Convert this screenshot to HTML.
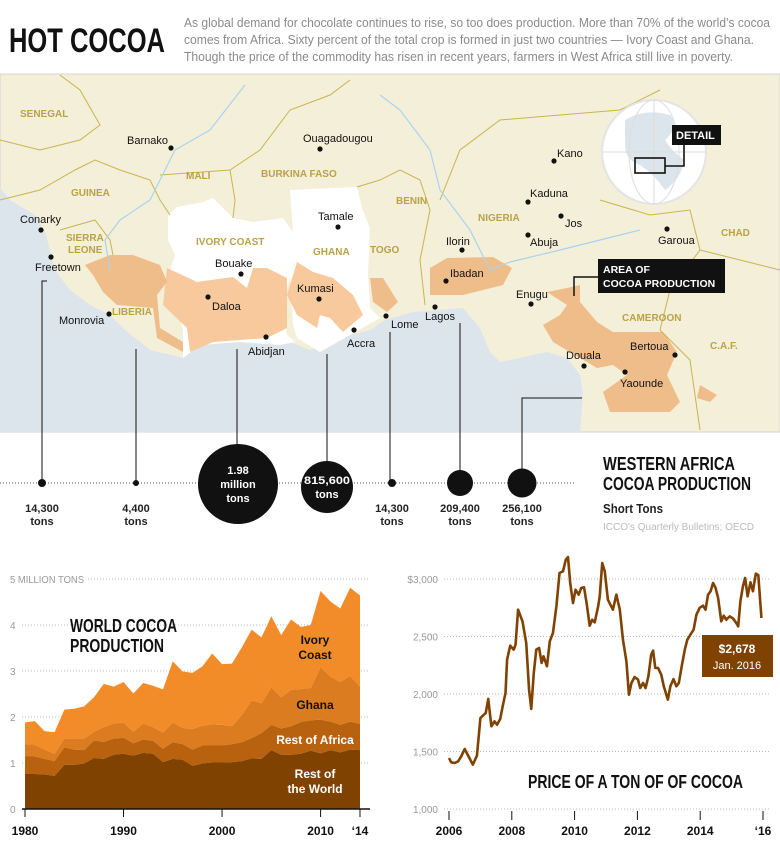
<!DOCTYPE html>
<html><head><meta charset="utf-8"><style>
body{margin:0;background:#fff;width:780px;height:860px;overflow:hidden}
svg{display:block}
text{font-family:"Liberation Sans Narrow","Liberation Sans",sans-serif}
.cl{font-family:"Liberation Sans",sans-serif;font-size:11px;fill:#111}
.co{font-family:"Liberation Sans",sans-serif;font-size:10px;font-weight:bold;fill:#b9a248}
.tk{font-family:"Liberation Sans",sans-serif;font-size:10px;fill:#999}
.yr{font-family:"Liberation Sans",sans-serif;font-size:12px;font-weight:bold;fill:#111}
</style></head><body>
<svg id="s" width="780" height="860" xmlns="http://www.w3.org/2000/svg">
<text x="9" y="52" font-size="34" font-weight="bold" fill="#111" textLength="156" lengthAdjust="spacingAndGlyphs">HOT COCOA</text>
<g font-size="12.5" fill="#8a8a8a">
<text x="184" y="27" textLength="586" lengthAdjust="spacingAndGlyphs">As global demand for chocolate continues to rise, so too does production. More than 70% of the world’s cocoa</text>
<text x="184" y="44" textLength="570" lengthAdjust="spacingAndGlyphs">comes from Africa. Sixty percent of the total crop is formed in just two countries — Ivory Coast and Ghana.</text>
<text x="184" y="61" textLength="549" lengthAdjust="spacingAndGlyphs">Though the price of the commodity has risen in recent years, farmers in West Africa still live in poverty.</text>
</g>
<g>
<rect x="0" y="74" width="780" height="358" fill="#f4efd8" stroke="#d4d4cc"/>
<polygon fill="#dce5eb" points="0,188 10,200 35,215 45,232 50,250 55,270 70,290 90,305 110,315 125,330 150,350 183,358 200,345 240,342 285,340 310,350 340,338 370,330 385,320 413,312 463,308 480,328 490,352 500,362 520,358 547,352 567,358 580,375 583,395 580,432 0,432"/>
<polygon fill="#fff" points="168,215 177,207 203,202 213,198 233,218 253,222 283,218 293,232 298,258 290,275 283,308 287,335 295,342 280,345 240,342 200,345 183,358 183,330 175,305 165,290 170,270 175,255 168,240"/>
<polygon fill="#fff" points="290,190 357,187 362,208 370,228 368,275 370,308 380,318 320,352 297,338 293,325 290,275 298,258 293,232"/>
<g fill="#f7c99c">
<polygon points="167,268 197,282 233,277 247,288 253,268 267,268 287,278 287,328 267,338 213,342 190,352 187,328 163,305"/>
<polygon points="297,262 313,272 333,278 353,295 363,315 343,332 330,318 320,315 317,328 297,315 287,295"/>
</g>
<g fill="#efbd8a">
<polygon points="370,278 383,278 398,302 387,312 373,302"/>
<polygon points="85,265 110,255 133,255 160,265 167,282 157,295 160,328 183,342 183,352 157,338 153,308 117,305 103,292 93,275"/>
<polygon points="430,268 447,258 493,257 512,268 503,285 463,295 430,295"/>
<polygon points="547,292 567,288 580,285 580,302 597,322 613,332 663,332 677,352 667,375 680,402 670,412 610,412 603,392 627,375 613,365 597,368 580,358 553,342 543,325 560,315 567,305"/>
<polygon points="700,385 717,395 710,402 697,398"/>
</g>
<g fill="none" stroke="#c9b450" stroke-width="1">
<polyline points="0,140 40,150 80,140 100,125 80,90 60,75"/>
<polyline points="0,200 40,190 75,170 95,160 120,170 150,180 160,200 170,215"/>
<polyline points="60,230 95,220 110,240 113,255"/>
<polyline points="160,175 230,170 260,150 290,110 330,95 350,80"/>
<polyline points="230,170 235,200 233,218"/>
<polyline points="357,187 380,180 400,170 420,180 430,210 420,260 425,305"/>
<polyline points="440,200 460,150 500,120 560,115 620,110 660,90"/>
<polyline points="600,200 650,215 690,210 700,250 670,290 660,330"/>
<polyline points="700,250 740,260 780,270"/>
<polyline points="660,330 690,360 700,430"/>
</g>
<g fill="none" stroke="#a9d4ef" stroke-width="1.2">
<polyline points="110,270 105,240 120,220 150,200 175,150 210,130 245,85"/>
<polyline points="380,95 400,110 430,150 440,190 470,230 490,270 510,262 560,250 620,235 640,230"/>
</g>
<g fill="#111">
<circle cx="171" cy="148" r="2.6"/><circle cx="320" cy="149" r="2.6"/><circle cx="338" cy="227" r="2.6"/>
<circle cx="241" cy="274" r="2.6"/><circle cx="208" cy="297" r="2.6"/><circle cx="319" cy="299" r="2.6"/>
<circle cx="266" cy="337" r="2.6"/><circle cx="354" cy="330" r="2.6"/><circle cx="386" cy="316" r="2.6"/>
<circle cx="109" cy="314" r="2.6"/><circle cx="41" cy="230" r="2.6"/><circle cx="51" cy="257" r="2.6"/>
<circle cx="435" cy="307" r="2.6"/><circle cx="446" cy="281" r="2.6"/><circle cx="462" cy="250" r="2.6"/>
<circle cx="531" cy="304" r="2.6"/><circle cx="528" cy="235" r="2.6"/><circle cx="561" cy="216" r="2.6"/>
<circle cx="528" cy="202" r="2.6"/><circle cx="554" cy="161" r="2.6"/><circle cx="667" cy="229" r="2.6"/>
<circle cx="584" cy="366" r="2.6"/><circle cx="675" cy="355" r="2.6"/><circle cx="625" cy="372" r="2.6"/>
</g>
<g class="cl">
<text class="cl" x="127" y="144">Barnako</text><text class="cl" x="303" y="142">Ouagadougou</text><text class="cl" x="318" y="220">Tamale</text>
<text class="cl" x="215" y="267">Bouake</text><text class="cl" x="212" y="310">Daloa</text><text class="cl" x="297" y="292">Kumasi</text>
<text class="cl" x="248" y="355">Abidjan</text><text class="cl" x="347" y="347">Accra</text><text class="cl" x="391" y="328">Lome</text>
<text class="cl" x="59" y="324">Monrovia</text><text class="cl" x="20" y="223">Conarky</text><text class="cl" x="35" y="271">Freetown</text>
<text class="cl" x="425" y="320">Lagos</text><text class="cl" x="450" y="277">Ibadan</text><text class="cl" x="446" y="245">Ilorin</text>
<text class="cl" x="516" y="298">Enugu</text><text class="cl" x="530" y="246">Abuja</text><text class="cl" x="565" y="227">Jos</text>
<text class="cl" x="530" y="197">Kaduna</text><text class="cl" x="557" y="157">Kano</text><text class="cl" x="658" y="244">Garoua</text>
<text class="cl" x="566" y="359">Douala</text><text class="cl" x="630" y="350">Bertoua</text><text class="cl" x="620" y="387">Yaounde</text>
</g>
<g>
<text class="co" x="20" y="117">SENEGAL</text><text class="co" x="71" y="196">GUINEA</text>
<text class="co" x="66" y="241">SIERRA</text><text class="co" x="68" y="253">LEONE</text>
<text class="co" x="186" y="179">MALI</text><text class="co" x="261" y="177">BURKINA FASO</text>
<text class="co" x="196" y="245">IVORY COAST</text><text class="co" x="313" y="255">GHANA</text><text class="co" x="370" y="253">TOGO</text>
<text class="co" x="396" y="204">BENIN</text><text class="co" x="478" y="221">NIGERIA</text><text class="co" x="721" y="236">CHAD</text>
<text class="co" x="622" y="321">CAMEROON</text><text class="co" x="710" y="349">C.A.F.</text><text class="co" x="112" y="315">LIBERIA</text>
</g>
<g>
<circle cx="654" cy="152" r="52" fill="#fff" stroke="#e4e4e4" stroke-width="2"/>
<path d="M625,120 q20,-12 45,-5 q10,12 -5,25 q10,15 20,20 q-5,20 -20,30 q-10,-15 -25,-25 q-15,-5 -15,-20 z" fill="#dce5eb"/>
<g stroke="#ddd" fill="none"><ellipse cx="654" cy="152" rx="25" ry="52"/><line x1="602" y1="152" x2="706" y2="152"/><line x1="654" y1="100" x2="654" y2="204"/></g>
<rect x="635" y="158" width="30" height="15" fill="none" stroke="#111" stroke-width="1.6"/>
<polyline points="665,166 684,166 684,145" fill="none" stroke="#111" stroke-width="1.6"/>
<rect x="672" y="125" width="49" height="20" fill="#111"/>
<text x="676" y="139" font-family="Liberation Sans" font-size="11" font-weight="bold" fill="#fff">DETAIL</text>
</g>
<g>
<polyline points="574,296 574,277 598,277" fill="none" stroke="#111" stroke-width="1.5"/>
<rect x="598" y="259" width="127" height="34" fill="#111"/>
<text x="603" y="273" font-family="Liberation Sans" font-size="10.5" font-weight="bold" fill="#fff">AREA OF</text>
<text x="603" y="287" font-family="Liberation Sans" font-size="10.5" font-weight="bold" fill="#fff">COCOA PRODUCTION</text>
</g>
</g>
<g>
<line x1="0" y1="483" x2="575" y2="483" stroke="#555" stroke-dasharray="1,2"/>
<g stroke="#111" stroke-width="1" fill="none">
<polyline points="47,281 42,281 42,483"/><line x1="136" y1="349" x2="136" y2="483"/><line x1="237" y1="349" x2="237" y2="445"/>
<line x1="327" y1="354" x2="327" y2="462"/><line x1="390" y1="332" x2="390" y2="483"/><line x1="460" y1="323" x2="460" y2="472"/>
<polyline points="582,398 522,398 522,470"/>
</g>
<g fill="#111"><circle cx="42" cy="483" r="4"/><circle cx="136" cy="483" r="3"/><circle cx="238" cy="484" r="40"/>
<circle cx="327" cy="487" r="26"/><circle cx="392" cy="483" r="4"/><circle cx="460" cy="483" r="13"/><circle cx="522" cy="483" r="14.5"/></g>
<g font-family="Liberation Sans" font-size="11" font-weight="bold" fill="#fff" text-anchor="middle">
<text x="238" y="474">1.98</text><text x="238" y="488">million</text><text x="238" y="502">tons</text>
<text x="327" y="484" textLength="46" lengthAdjust="spacingAndGlyphs">815,600</text><text x="327" y="498">tons</text></g>
<g font-family="Liberation Sans" font-size="11" font-weight="bold" fill="#222" text-anchor="middle">
<text x="42" y="512">14,300</text><text x="42" y="525">tons</text><text x="136" y="512">4,400</text><text x="136" y="525">tons</text>
<text x="392" y="512">14,300</text><text x="392" y="525">tons</text><text x="460" y="512">209,400</text><text x="460" y="525">tons</text>
<text x="522" y="512">256,100</text><text x="522" y="525">tons</text></g>
<text x="603" y="470" font-size="18" font-weight="bold" fill="#111" textLength="132" lengthAdjust="spacingAndGlyphs">WESTERN AFRICA</text>
<text x="603" y="490" font-size="18" font-weight="bold" fill="#111" textLength="148" lengthAdjust="spacingAndGlyphs">COCOA PRODUCTION</text>
<text x="603" y="513" font-size="12.5" font-weight="bold" fill="#222" textLength="60" lengthAdjust="spacingAndGlyphs">Short Tons</text>
<text x="603" y="530" font-size="10" fill="#bbb" textLength="151" lengthAdjust="spacingAndGlyphs">ICCO's Quarterly Bulletins; OECD</text>
</g>
<g id="area"></g>
<g id="price"></g>
</svg>
<script>
const years=[1980,1981,1982,1983,1984,1985,1986,1987,1988,1989,1990,1991,1992,1993,1994,1995,1996,1997,1998,1999,2000,2001,2002,2003,2004,2005,2006,2007,2008,2009,2010,2011,2012,2013,2014];
const restOfWorld=[0.76,0.76,0.75,0.72,0.96,0.96,0.99,1.11,1.09,1.18,1.20,1.16,1.22,1.20,1.02,1.09,1.07,0.94,0.99,1.01,1.01,1.02,1.04,1.10,1.09,1.28,1.18,1.18,1.20,1.27,1.21,1.28,1.23,1.29,1.28];
const restOfAfrica=[0.38,0.38,0.34,0.32,0.38,0.33,0.29,0.38,0.37,0.35,0.35,0.27,0.29,0.28,0.29,0.36,0.34,0.35,0.39,0.37,0.37,0.39,0.41,0.44,0.56,0.55,0.57,0.62,0.69,0.66,0.73,0.62,0.60,0.61,0.57];
const ghana=[0.27,0.26,0.20,0.16,0.19,0.24,0.25,0.19,0.32,0.33,0.33,0.25,0.35,0.30,0.35,0.43,0.35,0.45,0.43,0.46,0.45,0.39,0.59,0.82,0.65,0.81,0.68,0.79,0.72,0.70,1.14,0.98,0.93,0.99,0.81];
const ivoryCoast=[0.47,0.51,0.40,0.47,0.63,0.65,0.70,0.75,0.94,0.80,0.88,0.83,0.88,0.90,0.94,1.33,1.23,1.22,1.29,1.54,1.32,1.36,1.47,1.54,1.43,1.55,1.35,1.53,1.35,1.37,1.66,1.63,1.60,1.92,1.98];
const areaYTicks=[0,1,2,3,4,5];
const areaXTicks=[1980,1990,2000,2010,2014];
const areaXLabels=["1980","1990","2000","2010","‘14"];
const priceDates=[2006.00,2006.07,2006.18,2006.29,2006.39,2006.50,2006.61,2006.76,2006.89,2007.00,2007.17,2007.25,2007.35,2007.45,2007.53,2007.63,2007.72,2007.80,2007.85,2007.95,2008.06,2008.12,2008.20,2008.34,2008.46,2008.55,2008.62,2008.70,2008.78,2008.87,2008.95,2009.01,2009.12,2009.21,2009.31,2009.42,2009.52,2009.63,2009.72,2009.79,2009.86,2009.95,2010.03,2010.13,2010.21,2010.30,2010.39,2010.48,2010.56,2010.64,2010.75,2010.80,2010.88,2010.96,2011.06,2011.22,2011.33,2011.44,2011.54,2011.65,2011.73,2011.81,2011.91,2012.02,2012.09,2012.18,2012.26,2012.35,2012.44,2012.50,2012.57,2012.66,2012.76,2012.84,2012.97,2013.05,2013.15,2013.24,2013.32,2013.42,2013.51,2013.59,2013.72,2013.79,2013.88,2013.98,2014.09,2014.17,2014.25,2014.33,2014.41,2014.49,2014.57,2014.67,2014.75,2014.83,2014.94,2015.04,2015.15,2015.21,2015.28,2015.36,2015.43,2015.51,2015.60,2015.68,2015.77,2015.85,2015.95];
const prices=[1443,1406,1400,1414,1458,1522,1464,1386,1464,1791,1835,1957,1719,1762,1733,1783,1907,2009,2299,2420,2386,2429,2733,2632,2443,2038,1870,2183,2386,2400,2270,2328,2241,2458,2530,2762,3052,3067,3168,3191,2965,2791,2907,2864,2922,2928,2777,2594,2646,2623,2762,2849,3139,3067,2820,2733,2864,2733,2472,2284,1994,2096,2148,2125,2052,2096,2052,2154,2342,2377,2226,2226,2168,2067,1951,2067,2130,2067,2096,2255,2386,2472,2530,2559,2690,2748,2768,2733,2864,2893,2965,2922,2835,2632,2681,2646,2675,2658,2617,2588,2806,2936,3009,2849,2971,2893,3046,3035,2661];
const priceYTicks=[1000,1500,2000,2500,3000];
const priceYLabels=["1,000","1,500","2,000","2,500","$3,000"];
const priceXTicks=[2006,2008,2010,2012,2014,2016];
const priceXLabels=["2006","2008","2010","2012","2014","‘16"];
const NS="http://www.w3.org/2000/svg";
function mk(p,tag,attrs,txt){const e=document.createElementNS(NS,tag);for(const k in attrs)e.setAttribute(k,attrs[k]);if(txt!==undefined)e.textContent=txt;p.appendChild(e);return e;}
const A=document.getElementById('area');
const ax=y=>25+(y-1980)*(335/34), ay=v=>809-v*46;
areaYTicks.forEach(t=>{
 if(t>0){const g=mk(A,'line',{x1:t==5?88:22,x2:370,y1:ay(t),y2:ay(t),stroke:'#bbb','stroke-dasharray':'1,2'});
 
 }
 const l=mk(A,'text',{x:10,y:ay(t)+4,class:'tk'},t==5?'5 MILLION TONS':String(t));
 if(t==5){l.setAttribute('textLength','74');l.setAttribute('lengthAdjust','spacingAndGlyphs');}
 
 
});
const series=[restOfWorld,restOfAfrica,ghana,ivoryCoast];
const names=['rest-of-world-area','rest-of-africa-area','ghana-area','ivory-coast-area'];
const colors=['#7f4200','#b8620f','#dc7c20','#f28c28'];
let base=years.map(()=>0);
const layers=[];
series.forEach((s,i)=>{const top=base.map((b,j)=>b+s[j]);layers.push([base,top]);base=top;});
for(let i=layers.length-1;i>=0;i--){
 const [b,t]=layers[i];
 let d='M'+years.map((y,j)=>ax(y)+','+ay(t[j])).join(' L');
 d+=' L'+years.slice().reverse().map((y,j)=>ax(y)+','+ay(b[b.length-1-j])).join(' L')+' Z';
 const p=mk(A,'path',{d:d,fill:colors[i]});
 
 
}
mk(A,'line',{x1:22,x2:370,y1:809,y2:809,stroke:'#111','stroke-width':1.5});
areaXTicks.forEach((t,i)=>{mk(A,'line',{x1:ax(t),x2:ax(t),y1:809,y2:817,stroke:'#111'});
 const l=mk(A,'text',{x:ax(t),y:835,class:'yr','text-anchor':'middle'},areaXLabels[i]);
 
 });
const at=mk(A,'text',{x:70,y:632,'font-size':18,'font-weight':'bold',fill:'#111',textLength:107,lengthAdjust:'spacingAndGlyphs'},'WORLD COCOA');


mk(A,'text',{x:70,y:652,'font-size':18,'font-weight':'bold',fill:'#111',textLength:94,lengthAdjust:'spacingAndGlyphs'},'PRODUCTION');
[['Ivory',644,'#111'],['Coast',659,'#111'],['Ghana',709,'#111'],['Rest of Africa',744,'#fff'],['Rest of',778,'#fff'],['the World',793,'#fff']].forEach(a=>{
 const l=mk(A,'text',{x:315,y:a[1],'text-anchor':'middle','font-family':'Liberation Sans','font-size':12,'font-weight':'bold',fill:a[2]},a[0]);
 
 });
const P=document.getElementById('price');
const px=t=>449+(t-2006)*31.4, py=v=>579+(3000-v)*0.115;
priceYTicks.forEach((t,i)=>{const g=mk(P,'line',{x1:444,x2:770,y1:py(t),y2:py(t),stroke:'#bbb','stroke-dasharray':'1,2'});
 
 
 const l=mk(P,'text',{x:438,y:py(t)+4,class:'tk','text-anchor':'end'},priceYLabels[i]);
 
 });
priceXTicks.forEach((t,i)=>{mk(P,'line',{x1:px(t),x2:px(t),y1:811,y2:820,stroke:'#111'});
 const l=mk(P,'text',{x:px(t),y:835,class:'yr','text-anchor':'middle'},priceXLabels[i]);
 
 });
const line=mk(P,'polyline',{points:priceDates.map((d,i)=>px(d)+','+py(prices[i])).join(' '),fill:'none',stroke:'#7f4200','stroke-width':2.6,'stroke-linejoin':'round'});


const cb=mk(P,'rect',{x:702,y:635,width:71,height:42,fill:'#7f4200'});


mk(P,'text',{x:737,y:653,'text-anchor':'middle','font-family':'Liberation Sans','font-size':12,'font-weight':'bold',fill:'#fff'},'$2,678');
mk(P,'text',{x:737,y:669,'text-anchor':'middle','font-family':'Liberation Sans','font-size':11,fill:'#fff'},'Jan. 2016');
const pt=mk(P,'text',{x:528,y:788,'font-size':18,'font-weight':'bold',fill:'#111',textLength:215,lengthAdjust:'spacingAndGlyphs'},'PRICE OF A TON OF OF COCOA');


</script>
</body></html>
